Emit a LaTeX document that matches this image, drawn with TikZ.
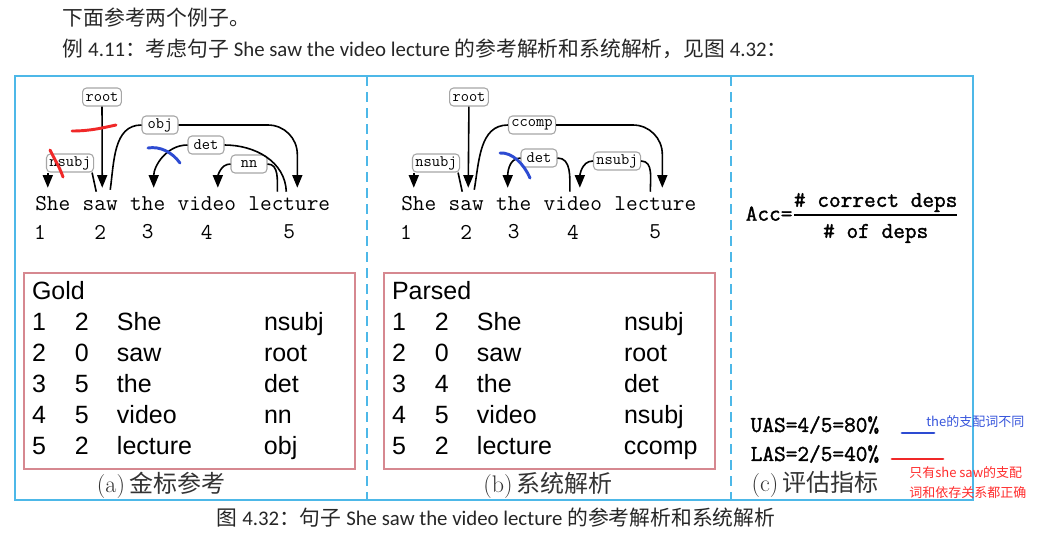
\documentclass[tikz,border=0pt]{standalone}
\usepackage{amsmath}
\usepackage{fontspec}
\newfontfamily\cjk{Noto Sans CJK SC}
\newfontfamily\calib{Carlito}
\newfontfamily\arialf{Liberation Sans}
\newfontfamily\boldmono{Latin Modern Mono}[FakeBold=1.5]
\usetikzlibrary{arrows.meta,positioning,calc}

\definecolor{frameblue}{RGB}{77,184,232}
\definecolor{tabred}{RGB}{214,136,144}
\definecolor{penred}{RGB}{240,40,40}
\definecolor{penblue}{RGB}{45,75,210}
\definecolor{notered}{RGB}{255,45,45}
\definecolor{noteblue}{RGB}{55,85,220}

\tikzset{
  word/.style={font=\fontsize{17}{17}\ttfamily, inner sep=0pt, text height=12pt, text depth=3pt, anchor=base west},
  idx/.style={font=\fontsize{17}{17}\ttfamily, inner sep=0pt},
  rel/.style={draw=gray!70, rounded corners=3pt, fill=white, font=\fontsize{12}{12}\ttfamily,
    inner xsep=2.2pt, inner ysep=0pt, minimum height=13.5pt, minimum width=27pt, line width=0.8pt},
  edgeline/.style={line width=1.2pt},
  dep/.style={edgeline, -{Triangle[length=9.5pt,width=7.5pt]}},
  tbl/.style={draw=tabred, line width=1.5pt, anchor=north west, inner xsep=6pt, inner ysep=0pt,
    minimum height=147pt, text width=236.25pt, align=left, font=\fontsize{18.75}{23.25}\arialf},
  subcap/.style={font=\fontsize{18}{18}\selectfont, text=black!80},
  evalfont/.style={font=\fontsize{17}{17}\boldmono},
  headfont/.style={font=\fontsize{15.6}{15.6}\calib, text=black!85},
  sepline/.style={frameblue, line width=1.5pt, dash pattern=on 7.5pt off 4.5pt},
  penmark/.style={line width=2.2pt, line cap=round, line join=round},
}
\setlength{\tabcolsep}{0pt}

\begin{document}
\begin{tikzpicture}[x=0.75pt, y=-0.75pt]
\fill[white] (0,0) rectangle (1044,537);
\useasboundingbox (0,0) rectangle (1044,537);

% header lines
\node[headfont, anchor=west] (line1) at (58,18) {{\cjk 下面参考两个例子。}};
\node[headfont, anchor=west] (line2) at (58,49)
  {{\cjk 例} 4.11{\cjk ：考虑句子} She saw the video lecture {\cjk 的参考解析和系统解析，见图} 4.32{\cjk ：}};

% frame
\draw[frameblue, line width=1.5pt] (15,76) rectangle (973,500);
\draw[sepline] (367,76) -- (367,500);
\draw[sepline] (731,76) -- (731,500);

% (a) gold tree
\node[word] (a1) at (35,210) {She};
\node[word, base right=8.93pt of a1] (a2) {saw};
\node[word, base right=8.93pt of a2] (a3) {the};
\node[word, base right=8.93pt of a3] (a4) {video};
\node[word, base right=8.93pt of a4] (a5) {lecture};
\node[idx] (na1) at ($(a1.base west)+(5,22)$) {1};
\node[idx] (na2) at ($(a2.base)+(0,22)$) {2};
\node[idx] (na3) at ($(a3.base)+(0,22)$) {3};
\node[idx] (na4) at ($(a4.base)+(0,22)$) {4};
\node[idx] (na5) at ($(a5.base)+(0,22)$) {5};

\node[rel] (rootA) at (102,97) {root};
\node[rel] (objA) at (160,125) {obj};
\node[rel] (detA) at (206,145) {det};
\node[rel] (nnA) at (249,164) {nn};
\node[rel] (nsA) at (70,163) {nsubj};

\coordinate (ta1) at ($(a1.north)+(-5,-6)$);
\draw[dep] (rootA) -- ($(a2.north)+(2,-6)$);
\draw[dep] (nsA.south -| ta1) -- (ta1);
\draw[edgeline] ($(a2.north)+(-4,-2)$) -- ($(nsA.south east)+(-2,0)$);
\draw[edgeline] ($(a2.north)+(10,-4)$) to[out=82,in=180] (objA.west);
\draw[dep, rounded corners=22pt] (objA.east) -| ($(a5.north)+(8,-6)$);
\draw[dep] (detA.west) to[out=180,in=90] ($(a3.north)+(6,-6)$);
\draw[edgeline] (detA.east) to[out=0,in=92] ($(a5.north)+(-3,-2)$);
\draw[dep] (nnA.west) to[out=180,in=90] ($(a4.north)+(11,-6)$);
\draw[edgeline] (nnA.east) to[out=0,in=90] ($(a5.north)+(-12,-2)$);

% (b) parsed tree
\node[word] (b1) at (401,210) {She};
\node[word, base right=8.93pt of b1] (b2) {saw};
\node[word, base right=8.93pt of b2] (b3) {the};
\node[word, base right=8.93pt of b3] (b4) {video};
\node[word, base right=8.93pt of b4] (b5) {lecture};
\node[idx] (nb1) at ($(b1.base west)+(5,22)$) {1};
\node[idx] (nb2) at ($(b2.base)+(0,22)$) {2};
\node[idx] (nb3) at ($(b3.base)+(0,22)$) {3};
\node[idx] (nb4) at ($(b4.base)+(0,22)$) {4};
\node[idx] (nb5) at ($(b5.base)+(0,22)$) {5};

\node[rel] (rootB) at (469,97) {root};
\node[rel] (ccB) at (532,125) {ccomp};
\node[rel] (nsB) at (436,163) {nsubj};
\node[rel] (detB) at (539,158) {det};
\node[rel] (nsC) at (617,161) {nsubj};

\coordinate (tb1) at ($(b1.north)+(-5,-6)$);
\draw[dep] (rootB) -- ($(b2.north)+(2,-6)$);
\draw[dep] (nsB.south -| tb1) -- (tb1);
\draw[edgeline] ($(b2.north)+(-4,-2)$) -- ($(nsB.south east)+(-2,0)$);
\draw[edgeline] ($(b2.north)+(8,-4)$) to[out=80,in=180] (ccB.west);
\draw[dep, rounded corners=22pt] (ccB.east) -| ($(b5.north)+(7,-6)$);
\draw[dep] (detB.west) to[out=180,in=90] ($(b3.north)+(-6,-6)$);
\draw[edgeline] (detB.east) to[out=0,in=90] ($(b4.north)+(-3,-2)$);
\draw[dep] (nsC.west) to[out=180,in=90] ($(b4.north)+(7,-6)$);
\draw[edgeline] (nsC.east) to[out=0,in=90] ($(b5.north)+(-5,-2)$);

% tables
\node[tbl] (gold) at (23,272) {\begin{tabular}{@{}p{32.25pt}p{31.5pt}p{110.25pt}l@{}}
  \multicolumn{4}{@{}l}{Gold}\\
  1 & 2 & She & nsubj\\
  2 & 0 & saw & root\\
  3 & 5 & the & det\\
  4 & 5 & video & nn\\
  5 & 2 & lecture & obj
\end{tabular}};
\node[tbl] (parsed) at (383,272) {\begin{tabular}{@{}p{32.25pt}p{31.5pt}p{110.25pt}l@{}}
  \multicolumn{4}{@{}l}{Parsed}\\
  1 & 2 & She & nsubj\\
  2 & 0 & saw & root\\
  3 & 4 & the & det\\
  4 & 5 & video & nsubj\\
  5 & 2 & lecture & ccomp
\end{tabular}};

\node[subcap] (capA) at (161,485) {(a)\,{\cjk 金标参考}};
\node[subcap] (capB) at (548,485) {(b)\,{\cjk 系统解析}};

% (c) metrics
\node[evalfont, anchor=west] (acc) at (741,218)
  {Acc=$\genfrac{}{}{1.5pt}{1}{\mbox{\# correct deps}}{\mbox{\rule{0pt}{15pt}\# of deps}}$};
\node[evalfont, anchor=west] (uas) at (746,425) {UAS=4/5=80\%};
\node[evalfont, anchor=west] (las) at (746,454) {LAS=2/5=40\%};
\node[subcap] (capC) at (815,484) {(c)\,{\cjk 评估指标}};

% hand marks
\draw[penmark, penred] (72,131) .. controls (90,131) and (102,128) .. (116,125);
\draw[penmark, penred] (50,150) .. controls (55,160) and (60,168) .. (63,177);
\draw[penmark, penblue] (148,148) .. controls (160,146) and (172,152) .. (180,163);
\draw[penmark, penblue] (500,153) .. controls (512,152) and (524,164) .. (530,178);
\draw[penmark, penblue] (902,433) -- (934,433);
\draw[penmark, penred] (892,459) -- (943,459);

% notes
\node[font=\fontsize{9.75}{15}\cjk, text=noteblue, anchor=west, inner sep=0pt] (noteB) at (926,422) {the的支配词不同};
\node[font=\fontsize{9.75}{15}\cjk, text=notered, anchor=west, align=left, inner sep=0pt] (noteR) at (909,483)
  {只有she saw的支配\\词和依存关系都正确};

% caption
\node[headfont] (figcap) at (496,518)
  {{\cjk 图} 4.32{\cjk ：句子} She saw the video lecture {\cjk 的参考解析和系统解析}};
\end{tikzpicture}
\end{document}
